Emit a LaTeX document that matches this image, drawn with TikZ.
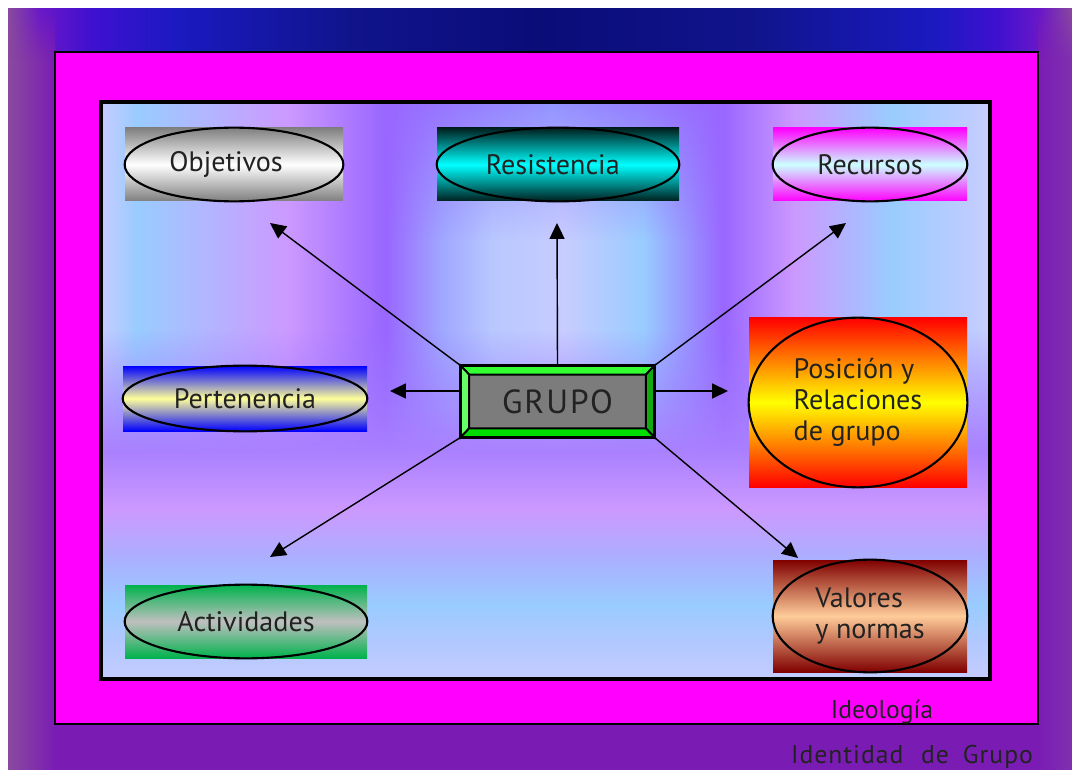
\documentclass[tikz,border=0pt]{standalone}
\usepackage{fontspec}
\setmainfont{PT Sans}
\usetikzlibrary{arrows.meta,calc,fadings}

\def \px {0.02cm}
\def \ringWidth {1.2pt}
\def \tagSize {\fontsize{16}{17.8}\selectfont}

\definecolor{ink}{HTML}{222222}
% background of the page
\definecolor{bgA}{HTML}{8A4A9E}
\definecolor{bgB}{HTML}{6A18C8}
\definecolor{bgC}{HTML}{4010D0}
\definecolor{bgD}{HTML}{1A1AC0}
\definecolor{bgE}{HTML}{10148C}
\definecolor{bgF}{HTML}{0A0C78}
\definecolor{bgG}{HTML}{7A1CB4}
\definecolor{bgH}{HTML}{8030B0}
\definecolor{frameMagenta}{HTML}{FF00FF}
% inner panel
\definecolor{pnlA}{HTML}{C8CCFF}
\definecolor{pnlB}{HTML}{99CCFF}
\definecolor{pnlC}{HTML}{B0B8FF}
\definecolor{pnlD}{HTML}{CC99FF}
\definecolor{pnlE}{HTML}{9966FF}
\definecolor{pnlF}{HTML}{A0A8FF}
\definecolor{pnlG}{HTML}{B8C8FF}
\definecolor{pnlH}{HTML}{9980FF}
\definecolor{pnlI}{HTML}{9494FF}
\definecolor{lowA}{HTML}{C4CCFF}
\definecolor{lowB}{HTML}{B0C8FF}
\definecolor{lowC}{HTML}{AAB0FF}
\definecolor{lowD}{HTML}{AA80FF}
\definecolor{lowE}{HTML}{9977FF}
% GRUPO box
\definecolor{bevelTop}{HTML}{33FF33}
\definecolor{bevelLeft}{HTML}{66FF66}
\definecolor{bevelRight}{HTML}{11AA11}
\definecolor{bevelBottom}{HTML}{00DD00}
\definecolor{coreGray}{HTML}{7C7C7C}

\pgfdeclarehorizontalshading{pageshade}{100bp}{%
  color(0bp)=(bgA); color(25bp)=(bgA); color(26.5bp)=(bgB); color(28.9bp)=(bgC);
  color(33bp)=(bgD); color(41bp)=(bgE); color(50bp)=(bgF); color(60bp)=(bgE);
  color(68.5bp)=(bgD); color(71.5bp)=(bgC); color(73.5bp)=(bgB); color(75bp)=(bgA);
  color(100bp)=(bgA)}

\pgfdeclarehorizontalshading{panelshade}{100bp}{%
  color(0bp)=(pnlA); color(25bp)=(pnlA); color(27bp)=(pnlB); color(30.5bp)=(pnlC);
  color(35.5bp)=(pnlD); color(41bp)=(pnlE); color(44.2bp)=(pnlF); color(47bp)=(pnlG);
  color(51bp)=(pnlA); color(55.5bp)=(pnlB); color(58.8bp)=(pnlH); color(60bp)=(pnlE);
  color(64bp)=(pnlD); color(69.5bp)=(pnlB); color(75bp)=(pnlA); color(100bp)=(pnlA)}

\pgfdeclareverticalshading{lowshade}{100bp}{%
  color(0bp)=(lowA); color(25bp)=(lowA); color(33.6bp)=(lowB); color(41.3bp)=(pnlB);
  color(51.2bp)=(lowC); color(62.2bp)=(pnlD); color(75bp)=(lowD); color(100bp)=(lowD)}

\tikzfading[name=downfade, top color=transparent!0, bottom color=transparent!100]
\tikzfading[name=upfade, top color=transparent!100, bottom color=transparent!0]

\tikzset{
  tag/.style 2 args={rectangle, inner sep=0pt, text=ink, font=\tagSize,
    minimum width=#1*\px, minimum height=#2*\px},
  tint/.style 2 args={top color=#1, bottom color=#1, middle color=#2},
  ringline/.style={draw=black, line width=\ringWidth},
  link/.style={-{Triangle[length=9pt,width=8.5pt]}, line width=0.8pt},
  bevel/.style={draw=black, line width=1.1pt, line join=miter},
  layer/.style={anchor=base, text=ink, font=\fontsize{14.6}{17}\selectfont},
}

\begin{document}
\begin{tikzpicture}[x=\px, y=-\px]
  \useasboundingbox (0,0) rectangle (1072,770);

  % page, frame and panel
  \shade[shading=pageshade] (8,9) rectangle (1072,770);
  \shade[left color=bgA, right color=bgG] (8,60) rectangle (55,770);
  \shade[left color=bgG, right color=bgH] (1038,60) rectangle (1072,770);
  \shade[left color=bgA, right color=bgG, path fading=upfade] (8,9) rectangle (55,60.5);
  \shade[left color=bgG, right color=bgH, path fading=upfade] (1038,9) rectangle (1072,60.5);
  \fill[bgG] (55,724) rectangle (1038,770);
  \filldraw[fill=frameMagenta, draw=black, line width=1.2pt] (55,52) rectangle (1038,724);
  \shade[shading=panelshade] (101,102) rectangle (990,679);
  \shade[left color=pnlE, right color=pnlE, middle color=pnlI, path fading=downfade] (385,102) rectangle (720,240);
  \shade[top color=lowE, bottom color=lowD, path fading=upfade] (101,330) rectangle (990,452);
  \shade[shading=lowshade] (101,451.5) rectangle (990,679);
  \draw[line width=2.4pt] (101,102) rectangle (990,679);

  % the seven tags
  \node[tag={218}{73}, tint={gray}{white}] (objetivos) at (234,164.5) {Objetivos\kern9pt};
  \node[tag={242}{73}, tint={black!75!teal}{cyan}] (resistencia) at (558,164.5) {Resistencia\kern6pt};
  \node[tag={194}{73}, tint={frameMagenta}{cyan!20}] (recursos) at (870,164.5) {Recursos};
  \node[tag={244}{65}, tint={blue}{yellow!40}] (pertenencia) at (245,398.5) {Pertenencia};
  \node[tag={218}{169}, tint={red}{yellow}, align=left] (posicion) at (858,402.5)
    {Posición y\\Relaciones\\de grupo};
  \node[tag={242}{73}, tint={green!40!teal}{lightgray}] (actividades) at (246,621.5) {Actividades};
  \node[tag={194}{112}, tint={black!50!red}{orange!40!white}, align=left] (valores) at (870,616)
    {Valores\\y normas};

  \foreach \tagname in {objetivos,resistencia,recursos,pertenencia,posicion,actividades,valores}
    \draw[ringline] let \p1=($(\tagname.north east)-(\tagname.center)$) in
      (\tagname.center) ellipse [x radius=\x1, y radius=\y1];

  % GRUPO
  \node[rectangle, inner sep=0pt, minimum width=193*\px, minimum height=71*\px] (grupo) at (557.5,401.5) {};
  \node[rectangle, inner sep=0pt, minimum width=176*\px, minimum height=53*\px,
        fill=coreGray, text=ink, font=\fontsize{19}{22}\selectfont\addfontfeature{LetterSpace=6}] (core) at (grupo) {GRUPO};
  \filldraw[bevel, fill=bevelTop] (grupo.north west) -- (grupo.north east) -- (core.north east) -- (core.north west) -- cycle;
  \filldraw[bevel, fill=bevelLeft] (grupo.north west) -- (core.north west) -- (core.south west) -- (grupo.south west) -- cycle;
  \filldraw[bevel, fill=bevelRight] (grupo.north east) -- (grupo.south east) -- (core.south east) -- (core.north east) -- cycle;
  \filldraw[bevel, fill=bevelBottom] (grupo.south west) -- (core.south west) -- (core.south east) -- (grupo.south east) -- cycle;
  \draw[line width=1.7pt] (grupo.north west) rectangle (grupo.south east);

  % arrows
  \coordinate (tipN) at (557,223);
  \coordinate (tipNW) at (270,223);
  \coordinate (tipNE) at (846,223);
  \coordinate (tipW) at (390,391);
  \coordinate (tipE) at (728,391);
  \coordinate (tipSW) at (270,557);
  \coordinate (tipSE) at (798,558);
  \draw[link] (grupo.north) -- (tipN);
  \draw[link] (grupo.north west) -- (tipNW);
  \draw[link] (grupo.north east) -- (tipNE);
  \draw[link] (grupo.west |- tipW) -- (tipW);
  \draw[link] (grupo.east |- tipE) -- (tipE);
  \draw[link] (grupo.south west) -- (tipSW);
  \draw[link] (grupo.south east) -- (tipSE);

  % layer names
  \node[layer] (ideologia) at (882,718) {Ideología};
  \node[layer, font=\fontsize{14.6}{17}\selectfont\addfontfeature{LetterSpace=4}] (identidad) at (912,763)
    {Identidad\hspace{10pt}de\hspace{8pt}Grupo};
\end{tikzpicture}
\end{document}
